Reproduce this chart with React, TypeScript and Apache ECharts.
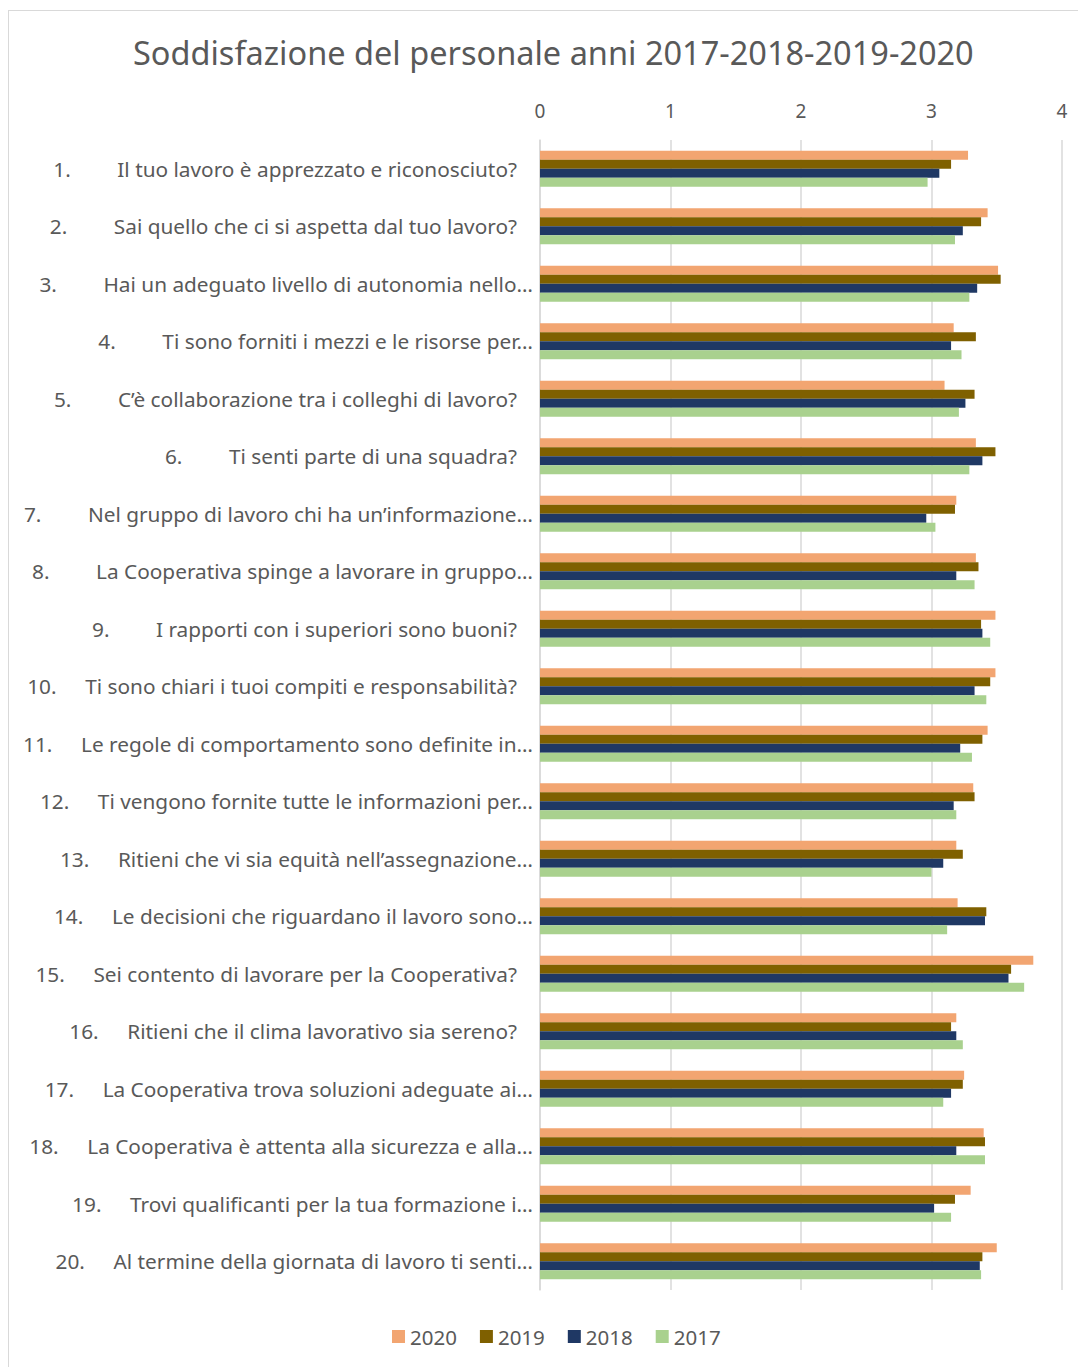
import React, { useEffect, useRef } from "react";
import * as echarts from "echarts";

const titleText = "Soddisfazione del personale anni 2017-2018-2019-2020";

const questionNumbers = ["1.", "2.", "3.", "4.", "5.", "6.", "7.", "8.", "9.", "10.", "11.", "12.", "13.", "14.", "15.", "16.", "17.", "18.", "19.", "20."];

const questions = [
  "Il tuo lavoro è apprezzato e riconosciuto?",
  "Sai quello che ci si aspetta dal tuo lavoro?",
  "Hai un adeguato livello di autonomia nello…",
  "Ti sono forniti i mezzi e le risorse per…",
  "C’è collaborazione tra i colleghi di lavoro?",
  "Ti senti parte di una squadra?",
  "Nel gruppo di lavoro chi ha un’informazione…",
  "La Cooperativa spinge a lavorare in gruppo…",
  "I rapporti con i superiori sono buoni?",
  "Ti sono chiari i tuoi compiti e responsabilità?",
  "Le regole di comportamento sono definite in…",
  "Ti vengono fornite tutte le informazioni per…",
  "Ritieni che vi sia equità nell’assegnazione…",
  "Le decisioni che riguardano il lavoro sono…",
  "Sei contento di lavorare per la Cooperativa?",
  "Ritieni che il clima lavorativo sia sereno?",
  "La Cooperativa trova soluzioni adeguate ai…",
  "La Cooperativa è attenta alla sicurezza e alla…",
  "Trovi qualificanti per la tua formazione i…",
  "Al termine della giornata di lavoro ti senti…",
];

const seriesNames = ["2020", "2019", "2018", "2017"];

const values2020 = [3.28, 3.43, 3.51, 3.17, 3.10, 3.34, 3.19, 3.34, 3.49, 3.49, 3.43, 3.32, 3.19, 3.20, 3.78, 3.19, 3.25, 3.40, 3.30, 3.50];
const values2019 = [3.15, 3.38, 3.53, 3.34, 3.33, 3.49, 3.18, 3.36, 3.38, 3.45, 3.39, 3.33, 3.24, 3.42, 3.61, 3.15, 3.24, 3.41, 3.18, 3.39];
const values2018 = [3.06, 3.24, 3.35, 3.15, 3.26, 3.39, 2.96, 3.19, 3.39, 3.33, 3.22, 3.17, 3.09, 3.41, 3.59, 3.19, 3.15, 3.19, 3.02, 3.37];
const values2017 = [2.97, 3.18, 3.29, 3.23, 3.21, 3.29, 3.03, 3.33, 3.45, 3.42, 3.31, 3.19, 3.00, 3.12, 3.71, 3.24, 3.09, 3.41, 3.15, 3.38];

const xTicks = [0, 1, 2, 3, 4];

const colors = ["#F2A571", "#7F6000", "#1F3864", "#A9D18E"];

export default function App() {
  const ref = useRef<HTMLDivElement>(null);

  useEffect(() => {
    if (!ref.current) return;
    const chart = echarts.init(ref.current, null, { renderer: "svg" });
    const allValues = [values2020, values2019, values2018, values2017];
    const textColor = "#595959";
    const font = "Noto Sans";
    const lblSize = 20.8;

    chart.setOption({
      animation: false,
      textStyle: { fontFamily: font },
      title: {
        text: titleText,
        left: 119,
        top: 20,
        textStyle: { fontFamily: font, fontSize: 32.5, fontWeight: "normal", color: textColor },
      },
      legend: {
        data: seriesNames,
        bottom: 17,
        left: 378,
        icon: "rect",
        itemWidth: 13,
        itemHeight: 13,
        itemGap: 23,
        textStyle: { fontFamily: font, fontSize: 20.5, color: textColor },
      },
      grid: { left: 531, right: 24, top: 129, bottom: 79, containLabel: false },
      xAxis: {
        type: "value",
        position: "top",
        min: xTicks[0],
        max: xTicks[xTicks.length - 1],
        interval: 1,
        axisLine: { show: false },
        axisTick: { show: false },
        axisLabel: { margin: 20, fontSize: 19, color: textColor, fontFamily: font },
        splitLine: { show: true, lineStyle: { color: "#d9d9d9", width: 1.5 } },
      },
      yAxis: {
        type: "category",
        inverse: true,
        data: questions,
        axisLine: { show: true, lineStyle: { color: "#d9d9d9", width: 1.5 } },
        axisTick: { show: false },
        axisLabel: {
          margin: 7,
          interval: 0,
          formatter: (value: string, idx: number) => {
            const num = questionNumbers[idx];
            const nStyle = num.length > 2 ? "n2" : "n1";
            const truncated = value.endsWith("…");
            return `{${nStyle}|${num}}{t|${value}}` + (truncated ? "" : "{s| }");
          },
          rich: {
            n1: { width: 64, align: "left", fontSize: lblSize, color: textColor, fontFamily: font },
            n2: { width: 58, align: "left", fontSize: lblSize, color: textColor, fontFamily: font },
            t: { fontSize: lblSize, color: textColor, fontFamily: font },
            s: { width: 16, fontSize: lblSize },
          },
        },
      },
      series: seriesNames.map((name, i) => ({
        name,
        type: "bar",
        data: allValues[i],
        barWidth: 9,
        barGap: "0%",
        itemStyle: { color: colors[i] },
      })),
    });
    return () => chart.dispose();
  }, []);

  return (
    <div
      style={{
        position: "relative",
        top: 2,
        width: 1077,
        height: 1358,
        borderLeft: "1px solid #d9d9d9",
        borderTop: "1px solid #d9d9d9",
      }}
    >
      <div ref={ref} style={{ width: 1077, height: 1358 }} />
    </div>
  );
}
